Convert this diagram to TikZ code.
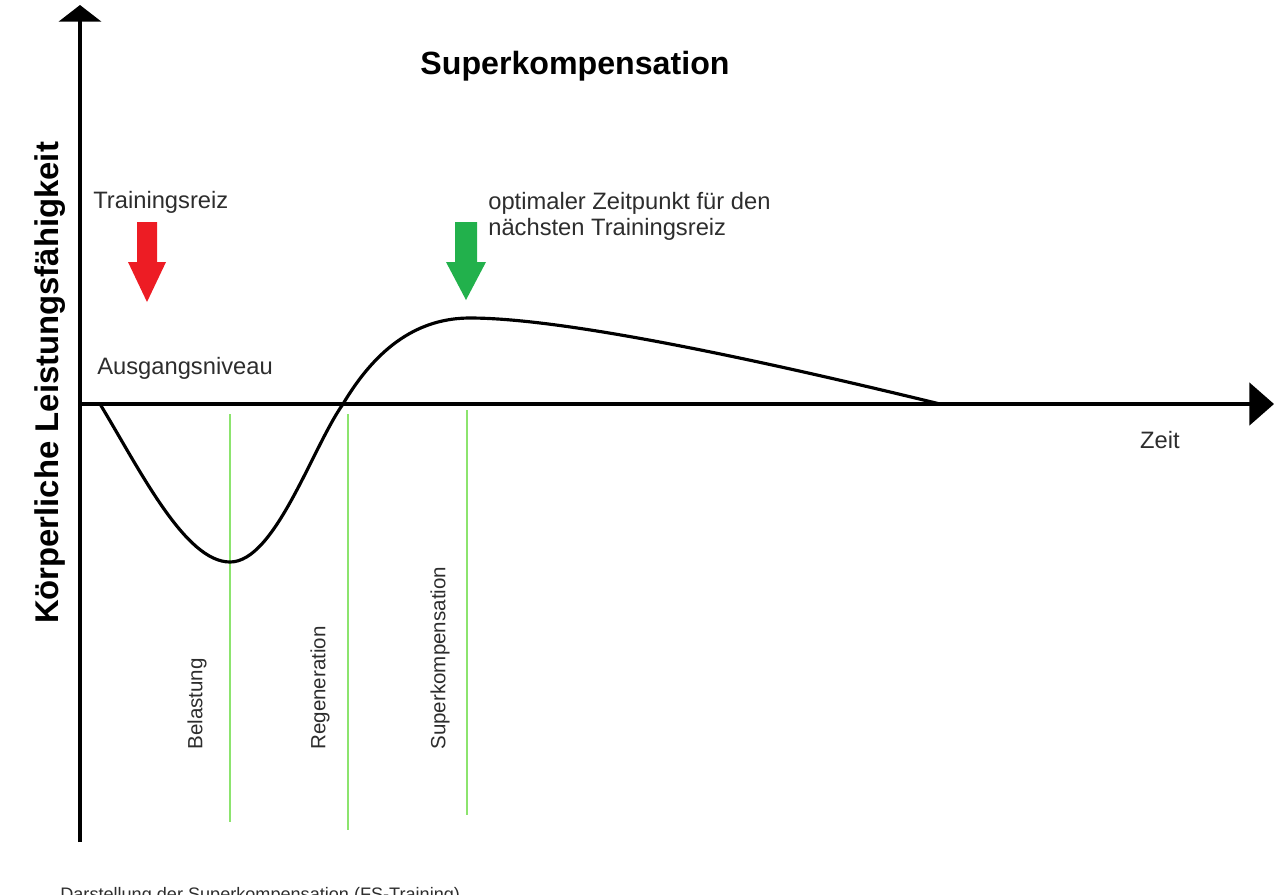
\documentclass[tikz,border=0pt]{standalone}
\usepackage{fontspec}
\setmainfont{Liberation Sans}
\usepackage{tikz}
\usetikzlibrary{arrows.meta,calc,positioning}
\usepackage{xcolor}
\definecolor{reizred}{RGB}{237,28,36}
\definecolor{reizgreen}{RGB}{34,177,76}
\definecolor{phasegreen}{RGB}{140,228,110}
\definecolor{txtgray}{RGB}{45,45,45}

\begin{document}
\begin{tikzpicture}[x=0.02cm,y=-0.02cm,
    axis/.style={line width=2.3pt},
    lbl/.style={inner sep=0pt,text=txtgray,font=\fontsize{13.5}{14.7}\selectfont},
    phase/.style={inner sep=0pt,text=txtgray,rotate=90,anchor=west,font=\fontsize{11.7}{13}\selectfont}]
  \clip(0,0)rectangle(1281,894);
  \coordinate(O)at(80,404);\coordinate(Ytop)at(80,5);\coordinate(Ybot)at(80,842);
  \coordinate(Xend)at(1274,404);
  % axes
  \draw[axis,-{Triangle[width=24pt,length=9.5pt]}](Ybot)--(Ytop);
  \draw[axis,-{Triangle[width=24pt,length=14pt]}](O)--(Xend);
  % phase lines
  \foreach \px/\pt/\pb in {230/414/822, 348/414/830, 467/410/815}
    \draw[phasegreen,line width=1.1pt](\px,\pt)--(\px,\pb);
  % curve
  \coordinate(S)at(100,404);\coordinate(M)at(230,562);\coordinate(R)at(343,404);
  \coordinate(P)at(470,318);\coordinate(E)at(940,404);
  \draw[line width=1.8pt,line cap=round](S)..controls(140,470)and(185,562)..(M)
    ..controls(275,562)and(312,448)..(R)
    ..controls(378,345)and(420,318)..(P)
    ..controls(570,318)and(780,365)..(E);
  % stimulus arrows
  \fill[reizred](137,222)--(157,222)--(157,262)--(166,262)--(147,302)--(128,262)--(137,262)--cycle;
  \fill[reizgreen](455,222)--(477,222)--(477,262)--(486,262)--(466,300)--(446,262)--(455,262)--cycle;
  % texts
  \node[font=\bfseries\fontsize{18.3}{20}\selectfont,inner sep=0pt](title)at(575,66){Superkompensation};
  \node[font=\bfseries\fontsize{18.7}{20}\selectfont,inner sep=0pt,rotate=90](ylbl)at(50,383){Körperliche Leistungsfähigkeit};
  \node[lbl,anchor=west](reiz)at(93,202){Trainingsreiz};
  \node[lbl,anchor=north west,align=left](next)at(488,192){optimaler Zeitpunkt für den\\nächsten Trainingsreiz};
  \node[lbl,anchor=west](niveau)at(97,368){Ausgangsniveau};
  \node[lbl](zeit)at(1160,440){Zeit};
  \foreach \px/\name in {197/Belastung, 320/Regeneration, 440/Superkompensation}
    \node[phase](\name)at(\px,750){\name};
  \node[inner sep=0pt,anchor=base west,text=txtgray,font=\fontsize{10.3}{12}\selectfont](cap)at(60,900){Darstellung der Superkompensation (FS-Training)};
\end{tikzpicture}
\end{document}
